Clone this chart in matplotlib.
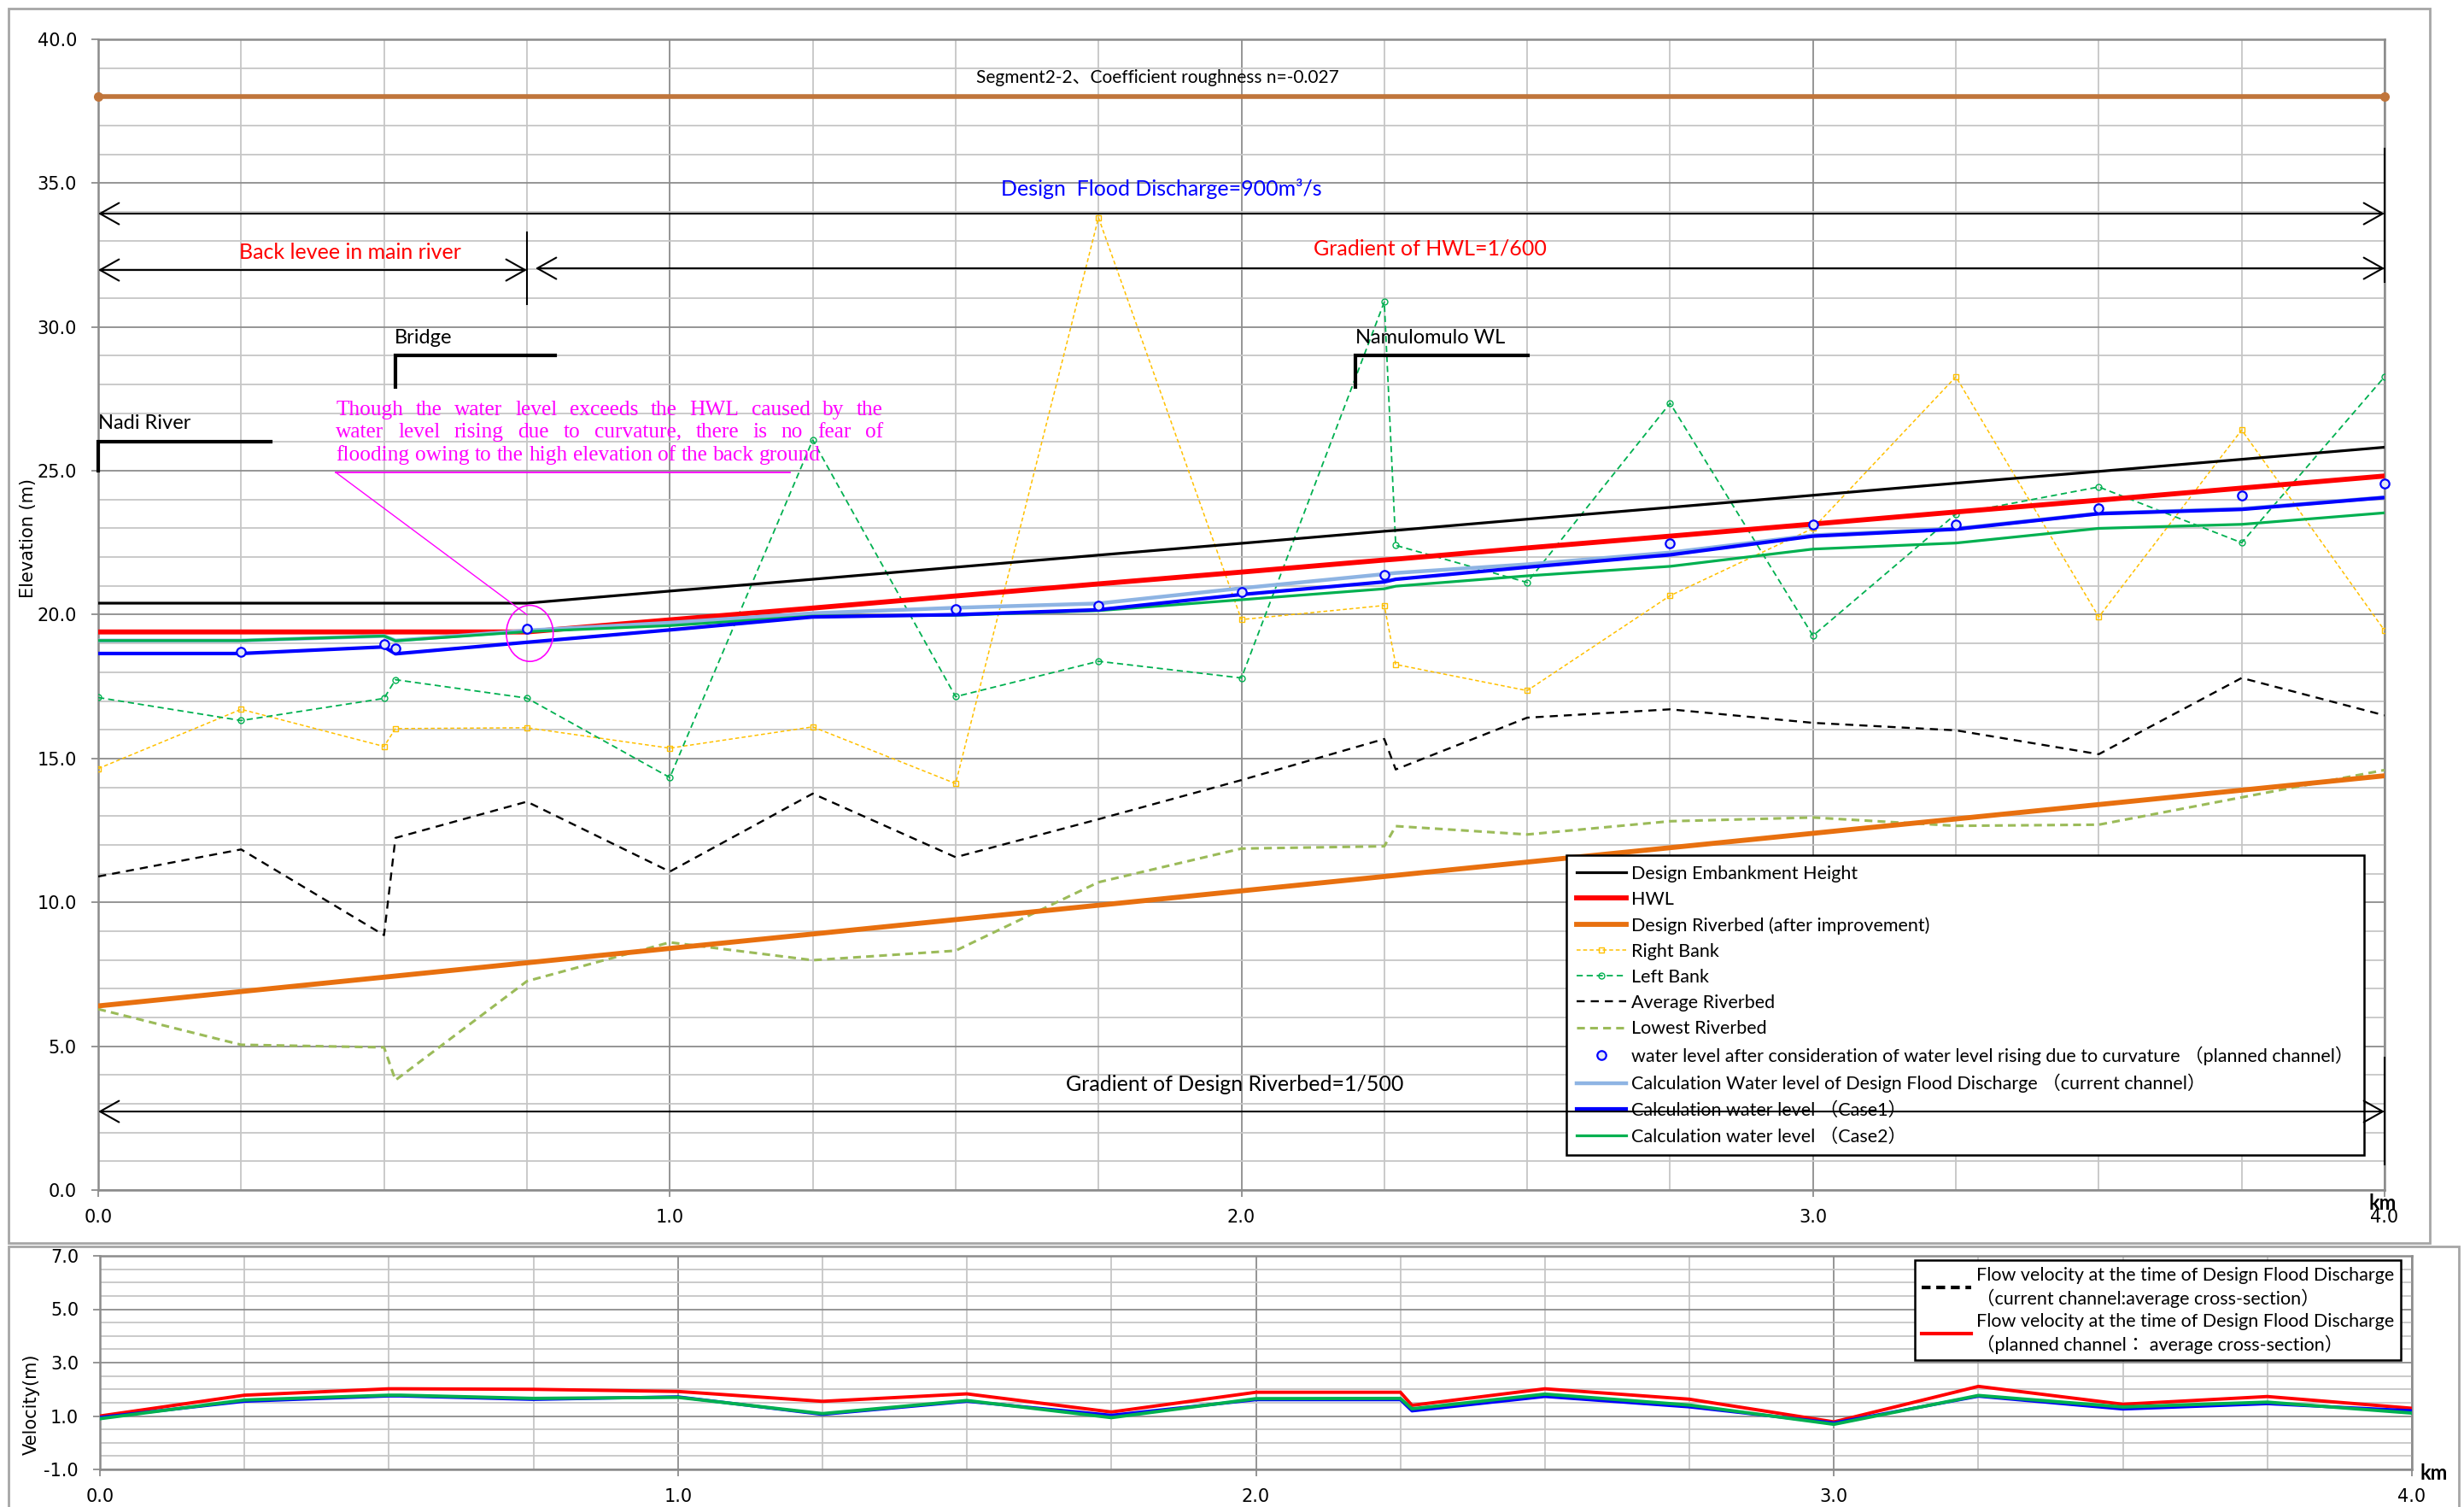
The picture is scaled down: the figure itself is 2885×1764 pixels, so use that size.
import matplotlib
matplotlib.use("Agg")
import matplotlib.pyplot as plt
from matplotlib.lines import Line2D
from matplotlib.patches import Ellipse, Rectangle
from matplotlib.ticker import MultipleLocator, FormatStrFormatter
import numpy as np

nan = np.nan

# ---------------- longitudinal profile data ----------------
km = [0.0, 0.25, 0.5, 0.52, 0.75, 1.0, 1.25, 1.5, 1.75, 2.0,
      2.25, 2.27, 2.5, 2.75, 3.0, 3.25, 3.5, 3.75, 4.0]

embankment = [20.4, 20.4, 20.4, 20.4, 20.4, 20.82, 21.23, 21.65, 22.07, 22.48,
              22.9, 22.93, 23.32, 23.73, 24.15, 24.57, 24.98, 25.4, 25.82]
hwl = [19.4, 19.4, 19.4, 19.4, 19.4, 19.82, 20.23, 20.65, 21.07, 21.48,
       21.9, 21.93, 22.32, 22.73, 23.15, 23.57, 23.98, 24.4, 24.82]
design_bed = [6.4, 6.9, 7.4, 7.44, 7.9, 8.4, 8.9, 9.4, 9.9, 10.4,
              10.9, 10.94, 11.4, 11.9, 12.4, 12.9, 13.4, 13.9, 14.4]
right_bank = [14.65, 16.71, 15.42, 16.04, 16.07, 15.36, 16.1, 14.13, 33.8, 19.83,
              20.32, 18.27, 17.36, 20.66, 23.0, 28.27, 19.92, 26.42, 19.45]
left_bank = [17.12, 16.32, 17.09, 17.74, 17.1, 14.34, 26.07, 17.15, 18.38, 17.8,
             30.87, 22.41, 21.12, 27.35, 19.27, 23.5, 24.44, 22.5, 28.27]
avg_bed = [10.9, 11.84, 8.86, 12.24, 13.5, 11.07, 13.78, 11.57, 12.89, 14.25,
           15.68, 14.62, 16.42, 16.71, 16.24, 15.98, 15.15, 17.8, 16.5]
low_bed = [6.29, 5.05, 4.96, 3.82, 7.26, 8.61, 7.99, 8.32, 10.7, 11.87,
           11.95, 12.65, 12.36, 12.82, 12.95, 12.66, 12.7, 13.65, 14.6]
curve_wl = [nan, 18.71, 18.97, 18.83, 19.5, nan, nan, 20.2, 20.3, 20.8,
            21.38, nan, nan, 22.47, 23.13, 23.13, 23.71, 24.14, 24.56]
current_wl = [19.1, 19.1, 19.26, 19.1, 19.45, 19.72, 20.05, 20.24, 20.39, 20.92,
              21.41, 21.45, 21.75, 22.16, 22.76, 22.99, 23.52, 23.68, 24.08]
case1_wl = [18.65, 18.65, 18.88, 18.64, 19.04, 19.47, 19.92, 20.0, 20.17, 20.7,
            21.14, 21.23, 21.65, 22.08, 22.73, 22.97, 23.51, 23.66, 24.07]
case2_wl = [19.1, 19.1, 19.26, 19.09, 19.41, 19.62, 19.95, 19.98, 20.14, 20.52,
            20.9, 20.99, 21.35, 21.68, 22.28, 22.49, 23.0, 23.14, 23.54]

segment_km = [0.0, 4.0]
segment_level = [38.0, 38.0]

# ---------------- flow velocity data ----------------
vel_planned = [1.0, 1.78, 2.02, 2.02, 2.0, 1.92, 1.55, 1.83, 1.15, 1.89,
               1.89, 1.40, 2.02, 1.63, 0.78, 2.11, 1.44, 1.73, 1.29]
vel_case1 = [0.95, 1.55, 1.75, 1.75, 1.62, 1.72, 1.06, 1.55, 1.03, 1.61,
             1.61, 1.19, 1.73, 1.34, 0.74, 1.74, 1.26, 1.46, 1.2]
vel_case2 = [0.9, 1.6, 1.78, 1.78, 1.66, 1.7, 1.09, 1.58, 0.94, 1.65,
             1.66, 1.27, 1.82, 1.41, 0.69, 1.77, 1.34, 1.52, 1.11]

main_xticks = [0.0, 1.0, 2.0, 3.0, 4.0]
main_yticks = [0.0, 5.0, 10.0, 15.0, 20.0, 25.0, 30.0, 35.0, 40.0]
vel_yticks = [-1.0, 1.0, 3.0, 5.0, 7.0]

legend_labels = [
    "Design Embankment Height",
    "HWL",
    "Design Riverbed (after improvement)",
    "Right Bank",
    "Left Bank",
    "Average Riverbed",
    "Lowest Riverbed",
    "water level after consideration of water level rising due to curvature \uff08planned channel\uff09",
    "Calculation Water level of Design Flood Discharge \uff08current channel\uff09",
    "Calculation water level \uff08Case1\uff09",
    "Calculation water level \uff08Case2\uff09",
]
vel_legend_labels = [
    "Flow velocity at the time of Design Flood Discharge\n\uff08current channel:average cross-section\uff09",
    "Flow velocity at the time of Design Flood Discharge\n\uff08planned channel\uff1a average cross-section\uff09",
]

note_lines = [
    "Though the water level exceeds the HWL caused by the",
    "water level rising due to curvature, there is no fear of",
    "flooding owing to the high elevation of the back ground",
]

# ---------------- figure setup ----------------
W, H, DPI = 2885, 1764, 100
fig = plt.figure(figsize=(W / DPI, H / DPI), dpi=DPI)
fig.patch.set_facecolor("white")

SANS = ["Lato", "Noto Sans CJK JP", "DejaVu Sans"]
TICKFONT = "DejaVu Sans"
SERIF = "Liberation Serif"


def fxp(px):
    return px / W


def fyp(py):
    return 1 - py / H


# chart frames
fig.add_artist(Rectangle((fxp(10), fyp(1455)), fxp(2845) - fxp(10), fyp(10) - fyp(1455),
                         transform=fig.transFigure, fill=False, ec="#A6A6A6", lw=2))
fig.add_artist(Rectangle((fxp(10), fyp(1775)), fxp(2879) - fxp(10), fyp(1459) - fyp(1775),
                         transform=fig.transFigure, fill=False, ec="#A6A6A6", lw=2))

ax = fig.add_axes([fxp(115), fyp(1393), fxp(2792) - fxp(115), fyp(46) - fyp(1393)])
axv = fig.add_axes([fxp(117), fyp(1720), fxp(2824) - fxp(117), fyp(1470) - fyp(1720)])


def style_axes(a, xmaj, xmin, ymaj, ymin):
    a.xaxis.set_major_locator(MultipleLocator(xmaj))
    a.xaxis.set_minor_locator(MultipleLocator(xmin))
    a.yaxis.set_major_locator(MultipleLocator(ymaj))
    a.yaxis.set_minor_locator(MultipleLocator(ymin))
    a.grid(which="minor", color="#C6C6C6", lw=1.3, zorder=0)
    a.grid(which="major", color="#8C8C8C", lw=1.3, zorder=0)
    a.set_axisbelow(True)
    for s in a.spines.values():
        s.set_color("#8C8C8C")
        s.set_linewidth(1.8)
    a.tick_params(which="minor", length=0)
    a.tick_params(which="major", direction="out", length=6, width=1.3, color="#8C8C8C",
                  labelsize=15, labelcolor="black")
    a.tick_params(axis="y", pad=12)
    a.tick_params(axis="x", pad=10)
    for lab in a.get_xticklabels() + a.get_yticklabels():
        lab.set_family(TICKFONT)
    a.xaxis.set_major_formatter(FormatStrFormatter("%.1f"))
    a.yaxis.set_major_formatter(FormatStrFormatter("%.1f"))


# ---------------- main profile ----------------
ax.set_xlim(0, 4.0)
ax.set_ylim(0, 40.0)
style_axes(ax, 1.0, 0.25, 5.0, 1.0)
ax.set_xticks(main_xticks)
ax.set_yticks(main_yticks)

ax.plot(segment_km, segment_level, color="#C0753B", lw=4, marker="o", ms=7, zorder=3,
        clip_on=False)

h_emb, = ax.plot(km, embankment, color="black", lw=2.3, zorder=4)
h_hwl, = ax.plot(km, hwl, color="#FF0000", lw=4.2, zorder=4)
h_bed, = ax.plot(km, design_bed, color="#E8700F", lw=4.2, zorder=4)
h_rb, = ax.plot(km, right_bank, color="#FFC000", lw=1.1, ls=(0, (3, 2)), marker="s", ms=4,
                mfc="none", mec="#FFC000", mew=1.0, zorder=3)
h_lb, = ax.plot(km, left_bank, color="#00B050", lw=1.3, ls=(0, (4, 2.5)), marker="o", ms=5,
                mfc="none", mec="#00B050", mew=1.0, zorder=3)
h_avg, = ax.plot(km, avg_bed, color="black", lw=1.7, ls=(0, (4, 3)), zorder=3)
h_low, = ax.plot(km, low_bed, color="#9BBB59", lw=2.2, ls=(0, (3, 2)), zorder=3)
h_cur, = ax.plot(km, current_wl, color="#8EB4E3", lw=3.2, zorder=4)
h_c2, = ax.plot(km, case2_wl, color="#00B050", lw=2.3, zorder=4)
h_c1, = ax.plot(km, case1_wl, color="#0000FF", lw=3.0, zorder=5)
h_crv, = ax.plot(km, curve_wl, ls="none", marker="o", ms=7.5, mfc="#E2E8F6", mec="#0000FF",
                 mew=1.6, zorder=6, clip_on=False)

legend_handles = [h_emb, h_hwl, h_bed, h_rb, h_lb, h_avg, h_low, h_crv, h_cur, h_c1, h_c2]
leg = ax.legend(legend_handles, legend_labels, loc="upper left",
                bbox_to_anchor=(fxp(1834), fyp(1001)), bbox_transform=fig.transFigure,
                borderaxespad=0, prop={"family": SANS, "size": 15.5}, frameon=True,
                fancybox=False, edgecolor="black", framealpha=1, handlelength=2.7,
                handletextpad=0.3, labelspacing=0.47, borderpad=0.55, numpoints=1)
leg.get_frame().set_linewidth(1.8)
leg.set_zorder(7)

# dimension arrows and their labels
ARROW = dict(arrowstyle="<->,head_length=0.8,head_width=0.45", color="black", lw=1.5,
             shrinkA=0, shrinkB=0, mutation_scale=20)
ax.annotate("", xy=(0.0, 33.94), xytext=(4.0, 33.94), arrowprops=ARROW, zorder=8)
ax.annotate("", xy=(0.0, 31.98), xytext=(0.75, 31.98), arrowprops=ARROW, zorder=8)
ax.annotate("", xy=(0.765, 32.04), xytext=(4.0, 32.04), arrowprops=ARROW, zorder=8)
ax.annotate("", xy=(0.0, 2.73), xytext=(4.0, 2.73), arrowprops=ARROW, zorder=8)
ax.plot([0.75, 0.75], [30.8, 33.3], color="black", lw=1.5, zorder=8)
ax.plot([4.0, 4.0], [31.57, 36.2], color="black", lw=1.5, zorder=8, clip_on=False)
ax.plot([4.0, 4.0], [0.9, 4.6], color="black", lw=1.5, zorder=8, clip_on=False)

ax.text(1.853, 38.67, "Segment2-2\u3001Coefficient roughness n=-0.027", ha="center",
        va="center", family=SANS, size=15, color="black", zorder=8)
ax.text(1.86, 34.8, "Design  Flood Discharge=900m\u00b3/s", ha="center", va="center",
        family=SANS, size=18, color="#0000FF", zorder=8)
ax.text(0.44, 32.58, "Back levee in main river", ha="center", va="center",
        family=SANS, size=18, color="#FF0000", zorder=8)
ax.text(2.33, 32.73, "Gradient of HWL=1/600", ha="center", va="center",
        family=SANS, size=18, color="#FF0000", zorder=8)
ax.text(1.988, 3.66, "Gradient of Design Riverbed=1/500", ha="center", va="center",
        family=SANS, size=18, color="black", zorder=8)

# structure markers
ax.plot([0.0, 0.0, 0.302], [25.0, 26.0, 26.0], color="black", lw=3, zorder=8,
        solid_joinstyle="miter", clip_on=False)
ax.text(0.0, 26.65, "Nadi River", ha="left", va="center", family=SANS, size=17, zorder=8)
ax.plot([0.52, 0.52, 0.80], [27.9, 29.0, 29.0], color="black", lw=3, zorder=8,
        solid_joinstyle="miter")
ax.text(0.518, 29.62, "Bridge", ha="left", va="center", family=SANS, size=17, zorder=8)
ax.plot([2.2, 2.2, 2.502], [27.9, 29.0, 29.0], color="black", lw=3, zorder=8,
        solid_joinstyle="miter")
ax.text(2.2, 29.62, "Namulomulo WL", ha="left", va="center", family=SANS, size=17, zorder=8)

# note about curvature rise, set as a justified paragraph
MAG = "#FF00FF"
NOTE_SIZE = 18.3
note_x0, note_x1 = 0.416, 1.373
note_y = [26.93, 26.16, 25.36]
renderer = fig.canvas.get_renderer()
inv = ax.transData.inverted()
probe_sp = ax.text(0, 0, "a a", family=SERIF, size=NOTE_SIZE)
probe_nosp = ax.text(0, 0, "aa", family=SERIF, size=NOTE_SIZE)
natural_gap = (probe_sp.get_window_extent(renderer).width
               - probe_nosp.get_window_extent(renderer).width)
probe_sp.remove()
probe_nosp.remove()
for i, (line, yb) in enumerate(zip(note_lines, note_y)):
    words = line.split()
    texts = [ax.text(note_x0, yb, w, ha="left", va="baseline", family=SERIF,
                     size=NOTE_SIZE, color=MAG, zorder=8) for w in words]
    widths = [t.get_window_extent(renderer).width for t in texts]
    p0 = ax.transData.transform((note_x0, yb))[0]
    p1 = ax.transData.transform((note_x1, yb))[0]
    if i < len(note_lines) - 1:
        gap = (p1 - p0 - sum(widths)) / (len(words) - 1)
    else:
        gap = natural_gap
    cur = p0
    for t, w in zip(texts, widths):
        t.set_x(inv.transform((cur, 0))[0])
        cur += w + gap

ax.plot([0.416, 1.21], [24.94, 24.94], color=MAG, lw=1.3, zorder=8)
ax.plot([0.416, 0.75], [24.94, 20.0], color=MAG, lw=1.0, zorder=8)
ax.add_patch(Ellipse((0.755, 19.35), width=0.082, height=1.95, fill=False, ec=MAG,
                     lw=1.2, zorder=8))

fig.text(fxp(33), fyp(630), "Elevation (m)", rotation=90, ha="center", va="center",
         family=TICKFONT, size=15)
fig.text(fxp(2790), fyp(1408), "km", ha="center", va="center", family=SANS, size=17,
         weight="bold")

# ---------------- velocity profile ----------------
axv.set_xlim(0, 4.0)
axv.set_ylim(-1.0, 7.0)
style_axes(axv, 1.0, 0.25, 2.0, 0.5)
axv.set_xticks(main_xticks)
axv.set_yticks(vel_yticks)

axv.plot(km, vel_planned, color="#FF0000", lw=2.8, zorder=4)
axv.plot(km, vel_case1, color="#0000FF", lw=2.6, zorder=4)
axv.plot(km, vel_case2, color="#00B050", lw=2.8, zorder=5)

vel_handles = [Line2D([], [], color="black", lw=3, ls=(0, (2.5, 1.6))),
               Line2D([], [], color="#FF0000", lw=3)]
vleg = axv.legend(vel_handles, vel_legend_labels, loc="upper left",
                  bbox_to_anchor=(fxp(2242), fyp(1475)), bbox_transform=fig.transFigure,
                  borderaxespad=0, prop={"family": SANS, "size": 15.5}, frameon=True,
                  fancybox=False, edgecolor="black", framealpha=1, handlelength=2.7,
                  handletextpad=0.3, labelspacing=0.3, borderpad=0.35)
vleg.get_frame().set_linewidth(1.8)
for t in vleg.get_texts():
    t.set_linespacing(1.3)

fig.text(fxp(37), fyp(1644), "Velocity(m)", rotation=90, ha="center", va="center",
         family=TICKFONT, size=15)
fig.text(fxp(2850), fyp(1724), "km", ha="center", va="center", family=SANS, size=17,
         weight="bold")

fig.savefig("out.png", dpi=DPI, facecolor="white")
